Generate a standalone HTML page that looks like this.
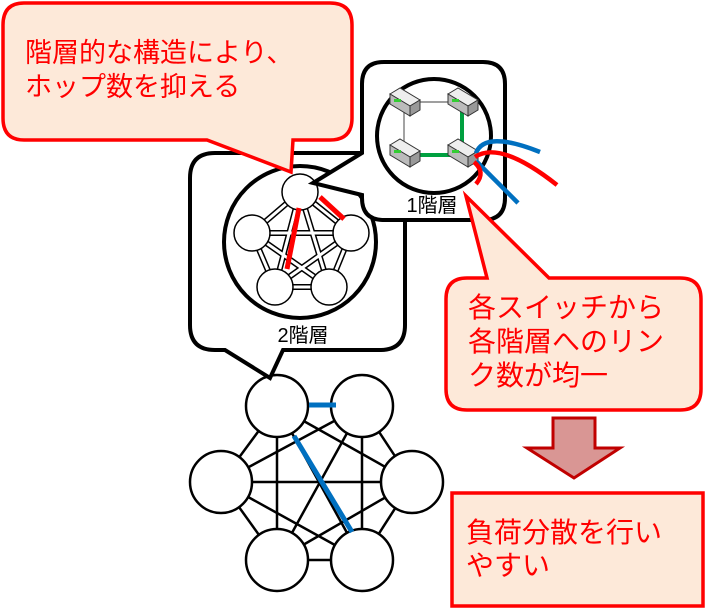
<!DOCTYPE html>
<html><head><meta charset="utf-8"><style>
html,body{margin:0;padding:0;background:#fff;width:706px;height:610px;overflow:hidden}
svg{display:block}
text{font-family:"Liberation Sans","Noto Sans CJK JP",sans-serif}
</style></head><body>
<svg width="706" height="610" viewBox="0 0 706 610" xmlns="http://www.w3.org/2000/svg">
<g stroke="#000" stroke-width="2.5">
<line x1="277" y1="406" x2="362" y2="406"/><line x1="277" y1="406" x2="221" y2="482"/><line x1="277" y1="406" x2="412" y2="482"/>
<line x1="277" y1="406" x2="277" y2="560"/><line x1="277" y1="406" x2="362" y2="560"/>
<line x1="362" y1="406" x2="221" y2="482"/><line x1="362" y1="406" x2="412" y2="482"/><line x1="362" y1="406" x2="277" y2="560"/><line x1="362" y1="406" x2="362" y2="560"/>
<line x1="221" y1="482" x2="412" y2="482"/><line x1="221" y1="482" x2="277" y2="560"/><line x1="221" y1="482" x2="362" y2="560"/>
<line x1="412" y1="482" x2="277" y2="560"/><line x1="412" y1="482" x2="362" y2="560"/><line x1="277" y1="560" x2="362" y2="560"/>
</g>
<g fill="#fff" stroke="#000" stroke-width="2.5">
<circle cx="277" cy="406" r="31"/><circle cx="362" cy="406" r="31"/><circle cx="221" cy="482" r="31"/>
<circle cx="412" cy="482" r="31"/><circle cx="277" cy="560" r="31"/><circle cx="362" cy="560" r="31"/>
</g>
<g stroke="#0070C0" stroke-width="5"><line x1="309" y1="405" x2="336" y2="405"/><line x1="294" y1="436" x2="352" y2="532"/></g>

<path d="M215,153 L380,153 Q405,153 405,178 L405,325 Q405,350 380,350 L283,350 L270,378 L225,350 L215,350 Q190,350 190,325 L190,178 Q190,153 215,153 Z" fill="#fff" stroke="#000" stroke-width="4"/>
<circle cx="300" cy="242" r="76" fill="#fff" stroke="#000" stroke-width="4"/>
<g stroke="#000" stroke-width="6">
<line x1="300" y1="192" x2="252" y2="233"/><line x1="300" y1="192" x2="351" y2="233"/><line x1="300" y1="192" x2="275" y2="287"/><line x1="300" y1="192" x2="329" y2="287"/>
<line x1="252" y1="233" x2="351" y2="233"/><line x1="252" y1="233" x2="275" y2="287"/><line x1="252" y1="233" x2="329" y2="287"/>
<line x1="351" y1="233" x2="275" y2="287"/><line x1="351" y1="233" x2="329" y2="287"/><line x1="275" y1="287" x2="329" y2="287"/>
</g>
<g stroke="#fff" stroke-width="3">
<line x1="300" y1="192" x2="252" y2="233"/><line x1="300" y1="192" x2="351" y2="233"/><line x1="300" y1="192" x2="275" y2="287"/><line x1="300" y1="192" x2="329" y2="287"/>
<line x1="252" y1="233" x2="351" y2="233"/><line x1="252" y1="233" x2="275" y2="287"/><line x1="252" y1="233" x2="329" y2="287"/>
<line x1="351" y1="233" x2="275" y2="287"/><line x1="351" y1="233" x2="329" y2="287"/><line x1="275" y1="287" x2="329" y2="287"/>
</g>
<g fill="#fff" stroke="#000" stroke-width="1.5">
<circle cx="300" cy="192" r="18"/><circle cx="252" cy="233" r="18"/><circle cx="351" cy="233" r="18"/><circle cx="275" cy="287" r="18"/><circle cx="329" cy="287" r="18"/>
</g>
<g stroke="#f00" stroke-width="5"><line x1="299" y1="208" x2="287" y2="269"/><line x1="320" y1="197" x2="344" y2="219"/></g>
<text x="303" y="342" font-size="20" text-anchor="middle" fill="#000">2階層</text>

<path d="M384,62 L483,62 Q505,62 505,84 L505,198 Q505,220 483,220 L384,220 Q362,220 362,198 L362,195 L313,183 L362,153 L362,84 Q362,62 384,62 Z" fill="#fff" stroke="#000" stroke-width="4"/>
<circle cx="434" cy="136" r="57" fill="#fff" stroke="#000" stroke-width="4"/>
<g stroke="#666" stroke-width="1.2"><line x1="404" y1="102" x2="462" y2="102"/><line x1="404" y1="102" x2="404" y2="153"/></g>
<g stroke="#00A040" stroke-width="4"><line x1="462" y1="108" x2="462" y2="148"/><line x1="410" y1="155" x2="458" y2="155"/></g>
<g stroke="#333" stroke-width="1">
<g transform="translate(390,88)"><path d="M0,6 L10,0 L30,12 L20,18 Z" fill="#eee"/><path d="M0,6 L20,18 L20,28 L0,16 Z" fill="#bbb"/><path d="M20,18 L30,12 L30,22 L20,28 Z" fill="#999"/><rect x="4" y="11" width="7" height="3" fill="#3c3" stroke="none"/></g>
<g transform="translate(448,88)"><path d="M0,6 L10,0 L30,12 L20,18 Z" fill="#eee"/><path d="M0,6 L20,18 L20,28 L0,16 Z" fill="#bbb"/><path d="M20,18 L30,12 L30,22 L20,28 Z" fill="#999"/><rect x="4" y="11" width="7" height="3" fill="#3c3" stroke="none"/></g>
<g transform="translate(390,139)"><path d="M0,6 L10,0 L30,12 L20,18 Z" fill="#eee"/><path d="M0,6 L20,18 L20,28 L0,16 Z" fill="#bbb"/><path d="M20,18 L30,12 L30,22 L20,28 Z" fill="#999"/><rect x="4" y="11" width="7" height="3" fill="#3c3" stroke="none"/></g>
<g transform="translate(448,139)"><path d="M0,6 L10,0 L30,12 L20,18 Z" fill="#eee"/><path d="M0,6 L20,18 L20,28 L0,16 Z" fill="#bbb"/><path d="M20,18 L30,12 L30,22 L20,28 Z" fill="#999"/><rect x="4" y="11" width="7" height="3" fill="#3c3" stroke="none"/></g>
</g>
<g fill="none" stroke-width="4.5">
<path d="M476,153 Q485,130 540,152" stroke="#0070C0"/>
<path d="M475,157 Q500,140 557,185" stroke="#f00"/>
<path d="M476,161 L518,203" stroke="#0070C0"/>
<path d="M474,162 Q486,172 476,184" stroke="#f00"/>
</g>
<text x="432" y="212" font-size="20" text-anchor="middle" fill="#000">1階層</text>

<path d="M24,3 L330,3 Q352,3 352,25 L352,118 Q352,140 330,140 L293,140 L291,172 L207,140 L24,140 Q3,140 3,118 L3,25 Q3,3 24,3 Z" fill="#FDE9D9" stroke="#f00" stroke-width="3.5"/>
<text x="25" y="62" font-size="27" fill="#f00">階層的な構造により、</text>
<text x="25" y="96" font-size="27" fill="#f00">ホップ数を抑える</text>

<path d="M467,278 L487,278 L466,196 L549,278 L680,278 Q701,278 701,299 L701,389 Q701,410 680,410 L467,410 Q446,410 446,389 L446,299 Q446,278 467,278 Z" fill="#FDE9D9" stroke="#f00" stroke-width="3.5"/>
<text x="468" y="317" font-size="28" fill="#f00">各スイッチから</text>
<text x="468" y="351" font-size="28" fill="#f00">各階層へのリン</text>
<text x="468" y="385" font-size="28" fill="#f00">ク数が均一</text>

<path d="M553,418 L595,418 L595,448 L620,448 L574,478 L527,448 L553,448 Z" fill="#D99694" stroke="#C00000" stroke-width="3"/>

<rect x="452" y="493" width="251" height="113" fill="#FDE9D9" stroke="#f00" stroke-width="3.5"/>
<text x="466" y="542" font-size="28" fill="#f00">負荷分散を行い</text>
<text x="466" y="575" font-size="28" fill="#f00">やすい</text>
</svg>
</body></html>
